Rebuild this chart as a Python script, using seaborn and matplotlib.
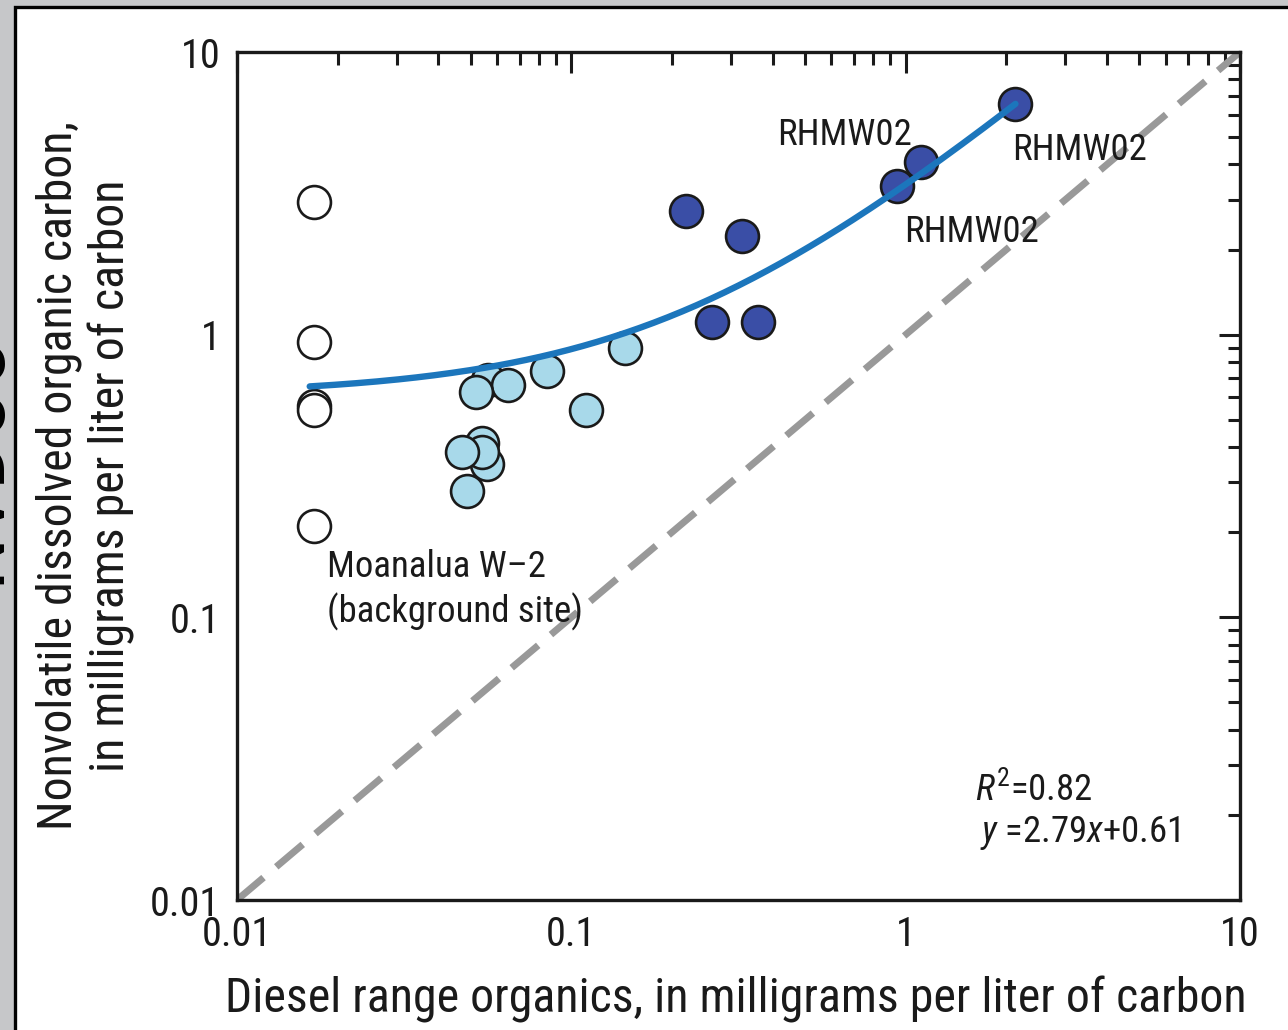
import numpy as np
import pandas as pd
import matplotlib
matplotlib.use("Agg")
import matplotlib.pyplot as plt
import seaborn as sns
from matplotlib.patches import Rectangle
from matplotlib.ticker import FixedLocator, FixedFormatter, LogLocator, NullFormatter

# ---------------- data ----------------
bg_dro = [0.017, 0.017, 0.017, 0.017, 0.017]
bg_nvdoc = [2.95, 0.94, 0.56, 0.54, 0.21]

lo_dro = [0.145, 0.0848, 0.111, 0.0563, 0.0647, 0.052, 0.0542, 0.0561, 0.0542, 0.0472, 0.0489]
lo_nvdoc = [0.90, 0.746, 0.543, 0.693, 0.666, 0.629, 0.415, 0.35, 0.383, 0.383, 0.279]

hi_dro = [0.221, 0.323, 0.264, 0.361, 0.94, 1.11, 2.13]
hi_nvdoc = [2.74, 2.24, 1.11, 1.11, 3.36, 4.08, 6.55]

fit_slope = 2.79
fit_intercept = 0.61
fit_x_range = [0.0165, 2.13]
one_to_one = [0.01, 10]

tick_values = [0.01, 0.1, 1, 10]
tick_labels = ["0.01", "0.1", "1", "10"]

x_label = "Diesel range organics, in milligrams per liter of carbon"
y_label = "Nonvolatile dissolved organic carbon,\nin milligrams per liter of carbon"

# ---------------- style ----------------
sns.set_style("white")
FAM = ["Roboto Condensed", "Liberation Sans", "DejaVu Sans"]
plt.rcParams["font.family"] = FAM
plt.rcParams["mathtext.fontset"] = "custom"
plt.rcParams["mathtext.rm"] = "Roboto Condensed"
plt.rcParams["mathtext.it"] = "Roboto Condensed:italic"
TXT = "#1a1a1a"

fig = plt.figure(figsize=(12.88, 10.30), dpi=100)
fig.patch.set_facecolor("#c6c7c9")
panel = Rectangle((15 / 1288, -0.05), 1.2, (1030 - 7) / 1030 + 0.05,
                  transform=fig.transFigure, facecolor="white",
                  edgecolor="black", linewidth=2.4, zorder=-1)
fig.add_artist(panel)
fig.text(15 / 1288, 1 - 458 / 1030, "NVDOC", rotation=90, fontsize=62,
         ha="right", va="center", color="black")

ax = fig.add_axes([237 / 1288, 1 - 900 / 1030, (1240 - 237) / 1288, (900 - 52) / 1030])
ax.set_facecolor("white")

bg_df = pd.DataFrame({"dro": bg_dro, "nvdoc": bg_nvdoc})
lo_df = pd.DataFrame({"dro": lo_dro, "nvdoc": lo_nvdoc})
hi_df = pd.DataFrame({"dro": hi_dro, "nvdoc": hi_nvdoc})

# 1:1 line
sns.lineplot(x=one_to_one, y=one_to_one, ax=ax, color="#999999", linewidth=5.0,
             dashes=False, zorder=1)
ax.lines[-1].set_dashes((5.0, 2.4))

msize = 560
mlw = 1.9
sns.scatterplot(data=bg_df, x="dro", y="nvdoc", ax=ax, s=msize, facecolor="white",
                edgecolor="#1a1a1a", linewidth=mlw, zorder=3)
sns.scatterplot(data=lo_df, x="dro", y="nvdoc", ax=ax, s=msize, color="#a8d9ea",
                edgecolor="#1a1a1a", linewidth=mlw, zorder=3)
sns.scatterplot(data=hi_df, x="dro", y="nvdoc", ax=ax, s=msize, color="#3a4ea6",
                edgecolor="#1a1a1a", linewidth=mlw, zorder=3)

# regression curve y = 2.79x + 0.61
fx = np.geomspace(fit_x_range[0], fit_x_range[1], 200)
fy = fit_slope * fx + fit_intercept
sns.lineplot(x=fx, y=fy, ax=ax, color="#1c76bc", linewidth=4.6, zorder=4, sort=False)

ax.set_xscale("log")
ax.set_yscale("log")
ax.set_xlim(0.01, 10)
ax.set_ylim(0.01, 10)

for axis in (ax.xaxis, ax.yaxis):
    axis.set_major_locator(FixedLocator(tick_values))
    axis.set_major_formatter(FixedFormatter(tick_labels))
    axis.set_minor_locator(LogLocator(base=10, subs=np.arange(2, 10)))
    axis.set_minor_formatter(NullFormatter())

ax.tick_params(which="both", direction="in", top=True, right=True, colors="#1a1a1a",
               width=2.2)
ax.tick_params(which="major", length=15)
ax.tick_params(which="minor", length=9)
ax.tick_params(axis="x", which="major", labelsize=29, pad=11, labelcolor=TXT)
ax.tick_params(axis="y", which="major", labelsize=29, pad=12, labelcolor=TXT)
for sp in ax.spines.values():
    sp.set_linewidth(2.4)
    sp.set_color("#1a1a1a")
    sp.set_visible(True)

ax.set_xlabel(x_label, fontsize=34.5, color=TXT)
ax.set_ylabel(y_label, fontsize=34.5, color=TXT, linespacing=1.15)
ax.xaxis.set_label_coords(0.497, -0.089)
ax.yaxis.set_label_coords(-0.102, 0.5)

afs = 26.5
ax.text(0.606, 0.902, "RHMW02", transform=ax.transAxes, fontsize=afs, ha="center",
        va="center", color=TXT, zorder=5)
ax.text(0.840, 0.884, "RHMW02", transform=ax.transAxes, fontsize=afs, ha="center",
        va="center", color=TXT, zorder=5)
ax.text(0.732, 0.788, "RHMW02", transform=ax.transAxes, fontsize=afs, ha="center",
        va="center", color=TXT, zorder=5)
ax.text(0.0897, 0.3656, "Moanalua W\u20132\n(background site)", transform=ax.transAxes,
        fontsize=afs, ha="left", va="center", color=TXT, linespacing=1.28, zorder=5)
ax.text(0.736, 0.130, r"$R^2$=0.82", transform=ax.transAxes, fontsize=afs,
        ha="left", va="center", color=TXT, zorder=5)
ax.text(0.741, 0.079, r"$y$ =2.79$x$+0.61", transform=ax.transAxes, fontsize=afs,
        ha="left", va="center", color=TXT, zorder=5)

fig.savefig("out.png", dpi=100, facecolor=fig.get_facecolor())
